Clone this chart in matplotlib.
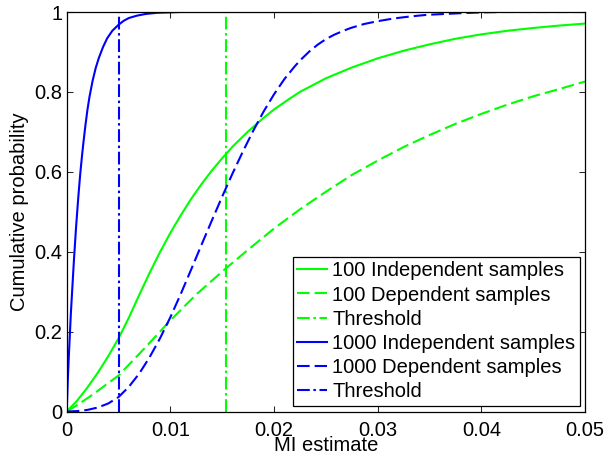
import matplotlib
matplotlib.use("Agg")
import matplotlib.pyplot as plt

plt.rcParams['font.family'] = ['Liberation Sans', 'DejaVu Sans']
plt.rcParams['lines.scale_dashes'] = False

# Empirical CDFs of the MI estimate
mi_100_ind = [0, 0.001, 0.002, 0.003, 0.004, 0.005, 0.006, 0.007, 0.008, 0.009,
              0.01, 0.011, 0.012, 0.013, 0.014, 0.015, 0.016, 0.0175, 0.019, 0.02,
              0.0215, 0.0225, 0.025, 0.0275, 0.03, 0.0325, 0.035, 0.0375,
              0.04, 0.0425, 0.045, 0.0475, 0.05]
cdf_100_ind = [0, 0.027, 0.06, 0.097, 0.138, 0.183, 0.235, 0.292, 0.347, 0.399,
               0.447, 0.491, 0.532, 0.569, 0.603, 0.634, 0.663, 0.701, 0.735, 0.756,
               0.783, 0.800, 0.834, 0.861, 0.884, 0.903, 0.919, 0.933,
               0.944, 0.953, 0.960, 0.966, 0.971]

mi_100_dep = [0, 0.001, 0.0025, 0.004, 0.005, 0.0075, 0.01, 0.0125, 0.0153, 0.0175,
              0.02, 0.0225, 0.025, 0.0275, 0.03, 0.0325, 0.035, 0.0375, 0.04,
              0.0425, 0.045, 0.0475, 0.05]
cdf_100_dep = [0, 0.016, 0.042, 0.071, 0.09, 0.158, 0.228, 0.293, 0.357, 0.405,
               0.458, 0.506, 0.55, 0.592, 0.628, 0.662, 0.692, 0.72, 0.745,
               0.768, 0.789, 0.807, 0.826]

mi_1000_ind = [0, 0.0001, 0.0002, 0.0003, 0.0004, 0.0005, 0.0006, 0.0007, 0.0008,
               0.0009, 0.001, 0.0011, 0.0012, 0.0013, 0.0014, 0.0015, 0.0016,
               0.0018, 0.002, 0.0022, 0.0025, 0.0028, 0.0031, 0.0035, 0.0039,
               0.0044, 0.005, 0.0055, 0.006, 0.0068, 0.0076, 0.0087, 0.0099,
               0.011, 0.0235]
cdf_1000_ind = [0, 0.075, 0.135, 0.19, 0.245, 0.29, 0.335, 0.38, 0.42,
                0.46, 0.495, 0.53, 0.562, 0.593, 0.62, 0.646, 0.67,
                0.715, 0.755, 0.788, 0.828, 0.86, 0.885, 0.912, 0.934,
                0.953, 0.968, 0.978, 0.985, 0.991, 0.995, 0.998, 0.999,
                1.0, 1.0]

mi_1000_dep = [0, 0.001, 0.002, 0.003, 0.004, 0.005, 0.006, 0.007, 0.008, 0.009,
               0.01, 0.011, 0.012, 0.013, 0.014, 0.015, 0.016, 0.017, 0.018, 0.019,
               0.02, 0.021, 0.022, 0.0226, 0.0234, 0.0242, 0.025, 0.0258, 0.0266,
               0.0274, 0.0287, 0.03, 0.0316, 0.0332, 0.0348, 0.0364, 0.038, 0.04,
               0.042, 0.05]
cdf_1000_dep = [0, 0.001, 0.004, 0.01, 0.02, 0.036, 0.062, 0.095, 0.136, 0.183,
                0.236, 0.294, 0.355, 0.417, 0.478, 0.538, 0.596, 0.651, 0.703, 0.751,
                0.794, 0.832, 0.864, 0.881, 0.901, 0.918, 0.932, 0.943, 0.952,
                0.96, 0.97, 0.977, 0.984, 0.989, 0.993, 0.995, 0.997, 0.999,
                1.0, 1.0]

threshold_100 = 0.01535
threshold_1000 = 0.005

x_ticks = [0, 0.01, 0.02, 0.03, 0.04, 0.05]
x_tick_labels = ['0', '0.01', '0.02', '0.03', '0.04', '0.05']
y_ticks = [0, 0.2, 0.4, 0.6, 0.8, 1]
y_tick_labels = ['0', '0.2', '0.4', '0.6', '0.8', '1']

labels = ['100 Independent samples', '100 Dependent samples', 'Threshold',
          '1000 Independent samples', '1000 Dependent samples', 'Threshold']

green = (0, 1, 0)
blue = (0, 0, 1)
solid = '-'
dashed = (0, (9.1, 3.6))
dashdot = (0, (9.2, 2.6, 1.8, 2.6))
lw = 1.5
fs = 14.5

fig = plt.figure(figsize=(6.06, 4.59), dpi=100)
ax = fig.add_axes([66.7 / 606, 47.5 / 459, 518.3 / 606, 399.5 / 459])

ax.plot(mi_100_ind, cdf_100_ind, color=green, ls=solid, lw=lw, label=labels[0])
ax.plot(mi_100_dep, cdf_100_dep, color=green, ls=dashed, lw=lw, label=labels[1],
        dash_capstyle='butt')
ax.plot([threshold_100, threshold_100], [0, 1], color=green, ls=dashdot, lw=lw,
        label=labels[2], dash_capstyle='butt')
ax.plot(mi_1000_ind, cdf_1000_ind, color=blue, ls=solid, lw=lw, label=labels[3])
ax.plot(mi_1000_dep, cdf_1000_dep, color=blue, ls=dashed, lw=lw, label=labels[4],
        dash_capstyle='butt')
ax.plot([threshold_1000, threshold_1000], [0, 1], color=blue, ls=dashdot, lw=lw,
        label=labels[5], dash_capstyle='butt')

ax.set_xlim(0, 0.05)
ax.set_ylim(0, 1)
ax.set_xticks(x_ticks)
ax.set_xticklabels(x_tick_labels)
ax.set_yticks(y_ticks)
ax.set_yticklabels(y_tick_labels)
ax.tick_params(direction='in', length=4, width=0.75, top=True, right=True,
               labelsize=fs, color='#262626')
ax.tick_params(axis='x', pad=6.5)
ax.tick_params(axis='y', pad=3)
for sp in ax.spines.values():
    sp.set_linewidth(0.9)
    sp.set_color('black')

ax.set_xlabel('MI estimate', fontsize=fs, labelpad=-2.5)
ax.set_ylabel('Cumulative probability', fontsize=fs, labelpad=4)

leg = ax.legend(loc='lower right', bbox_to_anchor=(0.990, 0.014), borderaxespad=0,
                fontsize=fs, handlelength=1.5, handletextpad=0.25,
                labelspacing=0.26, borderpad=0.22, fancybox=False, framealpha=1,
                edgecolor='black')
leg.get_frame().set_linewidth(0.9)

fig.savefig('out.png', dpi=100)
